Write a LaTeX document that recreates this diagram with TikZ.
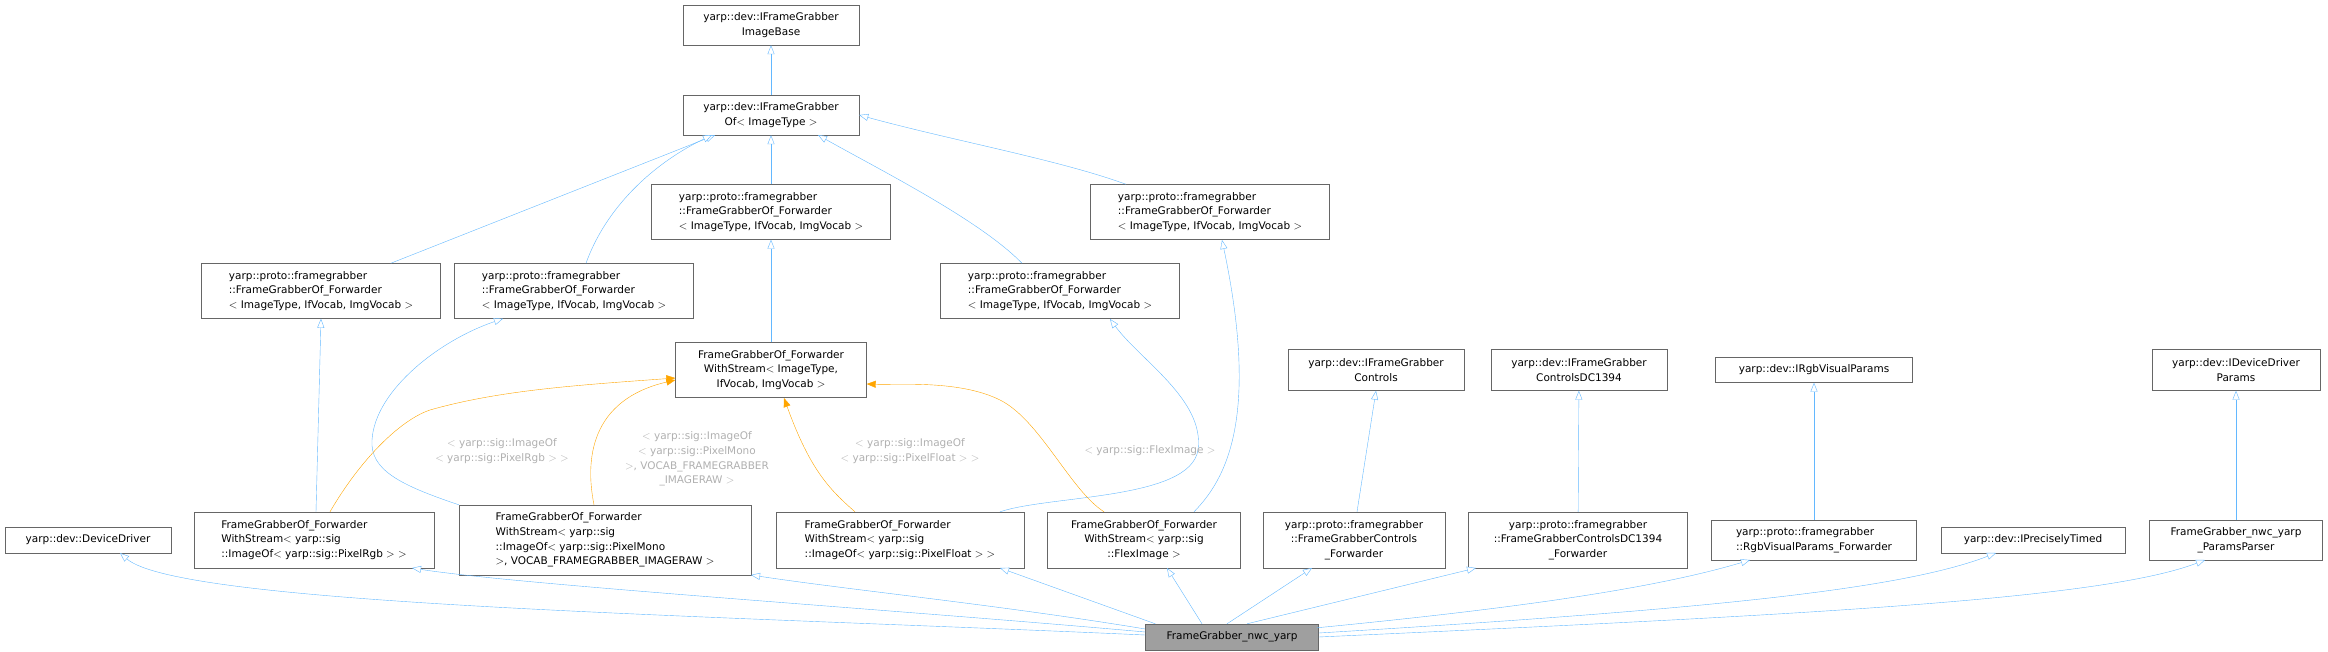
\documentclass[tikz,border=0pt]{standalone}
\usepackage{fontspec}
\setmainfont{DejaVu Sans}
\usetikzlibrary{arrows.meta}
\definecolor{edgeblue}{HTML}{63B8FF}
\definecolor{edgeorange}{HTML}{FFA500}
\definecolor{boxgray}{HTML}{666666}
\definecolor{lblgray}{HTML}{B0B0B0}
\begin{document}
\begin{tikzpicture}[x=1pt,y=-1pt,
	cls/.style={draw=boxgray,fill=white,inner sep=2pt,font=\fontsize{10.5}{14.6}\selectfont},
	inh/.style={draw=edgeblue,thin,-{Triangle[open,length=9pt,width=7pt,fill=white]}},
	tpl/.style={draw=edgeorange,thin,-{Triangle[length=9pt,width=7pt]}},
	lbl/.style={text=lblgray,align=center,font=\fontsize{10.5}{14.6}\selectfont}]
	\useasboundingbox (0,0) rectangle (2328,652);

	% nodes
	\node[cls,minimum width=176pt,minimum height=40pt,align=center] (base) at (771,25) {yarp::dev::IFrameGrabber\\ImageBase};
	\node[cls,minimum width=176pt,minimum height=40pt,align=center] (ifgof) at (771,115) {yarp::dev::IFrameGrabber\\Of$<$ ImageType $>$};
	\node[cls,minimum width=239pt,minimum height=55pt,align=left] (fwdA) at (771,212) {yarp::proto::framegrabber\\::FrameGrabberOf\_Forwarder\\$<$ ImageType, IfVocab, ImgVocab $>$};
	\node[cls,minimum width=239pt,minimum height=55pt,align=left] (fwdB) at (1210,212) {yarp::proto::framegrabber\\::FrameGrabberOf\_Forwarder\\$<$ ImageType, IfVocab, ImgVocab $>$};
	\node[cls,minimum width=239pt,minimum height=55pt,align=left] (fwdC) at (321,291) {yarp::proto::framegrabber\\::FrameGrabberOf\_Forwarder\\$<$ ImageType, IfVocab, ImgVocab $>$};
	\node[cls,minimum width=239pt,minimum height=55pt,align=left] (fwdD) at (574,291) {yarp::proto::framegrabber\\::FrameGrabberOf\_Forwarder\\$<$ ImageType, IfVocab, ImgVocab $>$};
	\node[cls,minimum width=239pt,minimum height=55pt,align=left] (fwdE) at (1060,291) {yarp::proto::framegrabber\\::FrameGrabberOf\_Forwarder\\$<$ ImageType, IfVocab, ImgVocab $>$};
	\node[cls,minimum width=191pt,minimum height=55pt,align=center] (ws) at (771,370) {FrameGrabberOf\_Forwarder\\WithStream$<$ ImageType,\\IfVocab, ImgVocab $>$};

	\node[cls,minimum width=166pt,minimum height=26pt] (dd) at (88,540) {yarp::dev::DeviceDriver};
	\node[cls,minimum width=240pt,minimum height=56pt,align=left] (wsrgb) at (314,540) {FrameGrabberOf\_Forwarder\\WithStream$<$ yarp::sig\\::ImageOf$<$ yarp::sig::PixelRgb $>$ $>$};
	\node[cls,minimum width=292pt,minimum height=70pt,align=left] (wsmono) at (605,540) {FrameGrabberOf\_Forwarder\\WithStream$<$ yarp::sig\\::ImageOf$<$ yarp::sig::PixelMono\\ $>$, VOCAB\_FRAMEGRABBER\_IMAGERAW $>$};
	\node[cls,minimum width=248pt,minimum height=56pt,align=left] (wsfloat) at (900,540) {FrameGrabberOf\_Forwarder\\WithStream$<$ yarp::sig\\::ImageOf$<$ yarp::sig::PixelFloat $>$ $>$};
	\node[cls,minimum width=193pt,minimum height=56pt,align=center] (wsflex) at (1144,540) {FrameGrabberOf\_Forwarder\\WithStream$<$ yarp::sig\\::FlexImage $>$};

	\node[cls,minimum width=176pt,minimum height=41pt,align=center] (ctrl) at (1376,370) {yarp::dev::IFrameGrabber\\Controls};
	\node[cls,minimum width=176pt,minimum height=41pt,align=center] (dc) at (1579,370) {yarp::dev::IFrameGrabber\\ControlsDC1394};
	\node[cls,minimum width=197pt,minimum height=25pt] (rgbp) at (1814,370) {yarp::dev::IRgbVisualParams};
	\node[cls,minimum width=168pt,minimum height=41pt,align=center] (ddp) at (2236,370) {yarp::dev::IDeviceDriver\\Params};

	\node[cls,minimum width=182pt,minimum height=56pt,align=center] (ctrlf) at (1354,540) {yarp::proto::framegrabber\\::FrameGrabberControls\\\_Forwarder};
	\node[cls,minimum width=219pt,minimum height=56pt,align=center] (dcf) at (1578,540) {yarp::proto::framegrabber\\::FrameGrabberControlsDC1394\\\_Forwarder};
	\node[cls,minimum width=205pt,minimum height=40pt,align=left] (rgbf) at (1814,540) {yarp::proto::framegrabber\\::RgbVisualParams\_Forwarder};
	\node[cls,minimum width=184pt,minimum height=26pt] (pt) at (2033,540) {yarp::dev::IPreciselyTimed};
	\node[cls,minimum width=173pt,minimum height=40pt,align=center] (pp) at (2236,540) {FrameGrabber\_nwc\_yarp\\\_ParamsParser};

	\node[cls,fill=gray!75,minimum width=173pt,minimum height=26pt] (main) at (1232,637) {FrameGrabber\_nwc\_yarp};

	% upper hierarchy
	\draw[inh] (ifgof) -- (base);
	\draw[inh] (fwdA) -- (ifgof);
	\draw[inh] (fwdC.north east) ++(-50,0) coordinate (c1) -- (ifgof.south west -| 715,135);
	\draw[inh] (fwdD.north) ++(12,0) .. controls (605,210) and (650,165) .. (712,135);
	\draw[inh] (fwdE.north) ++(-38,0) .. controls (980,220) and (880,170) .. (818,135);
	\draw[inh] (fwdB.north) ++(-84,0) .. controls (1060,160) and (950,140) .. (ifgof.east);
	\draw[inh] (ws) -- (fwdA);
	\draw[inh] (wsrgb.north) ++(2,0) -- (fwdC.south);
	\draw[inh] (wsmono.north west) .. controls (400,485) and (370,470) .. (372,440) .. controls (375,390) and (440,340) .. (fwdD.south west -| 503,319);
	\draw[inh] (wsfloat.north) ++(100,0) .. controls (1050,495) and (1190,500) .. (1198,450) .. controls (1205,400) and (1140,360) .. (1110,319);
	\draw[inh] (wsflex.north) ++(50,0) .. controls (1225,480) and (1260,420) .. (1222,240);

	% template instantiations
	\draw[tpl] (wsrgb.north) ++(16,0) .. controls (360,460) and (400,420) .. (430,410) .. controls (500,390) and (580,385) .. (ws.west |- 0,378);
	\draw[tpl] (wsmono.north) ++(-11,0) .. controls (585,460) and (590,400) .. (ws.west |- 0,380);
	\draw[tpl] (wsfloat.north) ++(-45,0) .. controls (830,490) and (810,470) .. (784,398);
	\draw[tpl] (wsflex.north) ++(-40,0) .. controls (1070,490) and (1040,420) .. (1000,400) .. controls (960,380) and (900,385) .. (ws.east |- 0,384);

	\node[lbl] (lrgb) at (502,451) {$<$ yarp::sig::ImageOf\\$<$ yarp::sig::PixelRgb $>$ $>$};
	\node[lbl] (lmono) at (697,459) {$<$ yarp::sig::ImageOf\\$<$ yarp::sig::PixelMono\\$>$, VOCAB\_FRAMEGRABBER\\\_IMAGERAW $>$};
	\node[lbl] (lfloat) at (910,451) {$<$ yarp::sig::ImageOf\\$<$ yarp::sig::PixelFloat $>$ $>$};
	\node[lbl] (lflex) at (1150,451) {$<$ yarp::sig::FlexImage $>$};

	% interfaces on the right
	\draw[inh] (ctrlf.north) ++(3,0) -- (ctrl.south);
	\draw[inh] (dcf) -- (dc);
	\draw[inh] (rgbf) -- (rgbp);
	\draw[inh] (pp) -- (ddp);

	% FrameGrabber_nwc_yarp
	\draw[inh] (main.west) ++(0,-2) .. controls (700,615) and (180,605) .. (120,553);
	\draw[inh] (main.west) ++(0,-5) .. controls (900,610) and (520,585) .. (412,568);
	\draw[inh] (main.west) ++(0,-8) .. controls (1000,605) and (850,590) .. (751,575);
	\draw[inh] (main.north west) ++(10,0) -- (1000,568);
	\draw[inh] (main.north) ++(-30,0) -- (1167,568);
	\draw[inh] (main.north) ++(-5,0) -- (1312,568);
	\draw[inh] (main.north) ++(15,0) -- (1476,568);
	\draw[inh] (main.north east) ++(-2,4) .. controls (1500,610) and (1650,590) .. (1750,560);
	\draw[inh] (main.east) ++(0,-4) .. controls (1700,610) and (1900,590) .. (1996,553);
	\draw[inh] (main.east) ++(0,0) .. controls (1800,615) and (2100,600) .. (2205,560);
\end{tikzpicture}
\end{document}
